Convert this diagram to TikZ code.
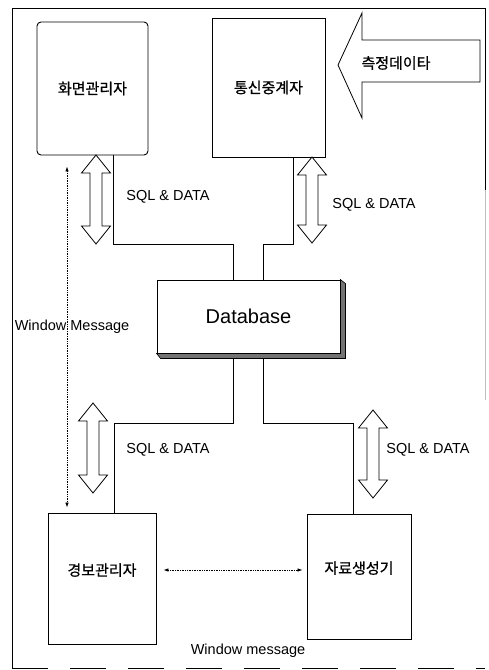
\documentclass[tikz,border=0pt]{standalone}
\usepackage{fontspec}
\setmainfont{Liberation Sans}
\newfontfamily\krfont[FakeBold=0.8]{Noto Sans CJK KR}
\usetikzlibrary{arrows.meta,positioning,calc}
\tikzset{
  modbox/.style={draw, line width=0.9pt, inner sep=0pt, font=\krfont\fontsize{15}{18}\selectfont},
  dbbox/.style={draw, line width=0.9pt, fill=white, minimum width=183, minimum height=73, font=\fontsize{20}{24}\selectfont},
  link/.style={line width=0.8pt},
  msg/.style={densely dotted, line width=0.7pt, {Latex[length=5pt,width=3.5pt]}-{Latex[length=5pt,width=3.5pt]}},
  lbl/.style={font=\fontsize{14.5}{17}\selectfont, inner sep=0pt},
  blk/.style={draw, line width=0.8pt, fill=white, line join=miter},
  frm/.style={line width=0.9pt},
}
% hollow two-headed block arrow: centre x, top tip y, bottom tip y
\newcommand{\blkarrow}[3]{%
  \draw[blk] (#1,#2) -- ++(14.5,18) -- ++(-8.5,0) -- (#1+6,#3-18) -- ++(8.5,0) -- (#1,#3)
    -- ++(-14.5,-18) -- ++(8.5,0) -- (#1-6,#2+18) -- ++(-8.5,0) -- cycle;}

\begin{document}
\begin{tikzpicture}[x=1pt, y=-1pt]
  \useasboundingbox (0,0) rectangle (489,670);
  % outer frame
  \draw[frm] (485,190) -- (485,8) -- (12,8) -- (12,668);
  \draw[frm, black!25] (485,190) -- (485,400);
  \draw[frm, dash pattern=on 36pt off 22pt] (12,668) -- (485,668);
  % modules
  \node[modbox, rounded corners=4pt, minimum width=111, minimum height=133] (scr) at (92.5,88.5) {화면관리자};
  \node[modbox, minimum width=113, minimum height=139] (relay) at (268.5,87.5) {통신중계자};
  \node[modbox, text depth=18pt, minimum width=108, minimum height=131] (alarm) at (102,578.5) {경보관리자};
  \node[modbox, text depth=18pt, minimum width=104, minimum height=125] (gen) at (359,576.5) {자료생성기};
  \node[dbbox] (db) at (248.5,316.5) {Database};
  % links to the database
  \draw[link] ([xshift=20.5pt]scr.south) -- ++(0,89) -| ([xshift=-15.5pt]db.north);
  \draw[link] ([xshift=24.5pt]relay.south) -- ++(0,87) -| ([xshift=14.5pt]db.north);
  \fill[black!55, draw=black, line width=0.6pt] (db.south west) -- ++(4,5) -| ([xshift=5pt,yshift=-4pt]db.north east)
    -- (db.north east) -- (db.south east) -- cycle;
  \draw[link, shorten <=5pt] ([xshift=-15.5pt]db.south) -- ++(0,70) -| ([xshift=12pt]alarm.north);
  \draw[link, shorten <=5pt] ([xshift=14.5pt]db.south) -- ++(0,70) -| ([xshift=-6pt]gen.north);
  % SQL traffic
  \blkarrow{96}{155}{244}
  \blkarrow{312}{157}{243}
  \blkarrow{93}{403}{493}
  \blkarrow{373}{410}{498}
  \node[lbl] (q1) at (168,197) {SQL \& DATA};
  \node[lbl] (q2) at (374,205) {SQL \& DATA};
  \node[lbl] (q3) at (168,450) {SQL \& DATA};
  \node[lbl] (q4) at (428,450) {SQL \& DATA};
  % incoming measurements
  \draw[blk] (338,65) -- (362,13) -- (362,40) -- (480,40) -- (480,82) -- (362,82) -- (362,118) -- cycle;
  \node[font=\krfont\fontsize{15}{18}\selectfont] (feed) at (396,63) {측정데이타};
  % window messages
  \coordinate (wv) at ([xshift=-25.5pt]scr.south);
  \draw[msg, shorten <=11pt, shorten >=5pt] (wv) -- (wv |- alarm.north);
  \node[lbl] (wm1) at (72,327) {Window Message};
  \coordinate (wh) at ([yshift=8.5pt]alarm.east);
  \draw[msg, shorten <=7pt, shorten >=4pt] (wh) -- (wh -| gen.west);
  \node[lbl] (wm2) at (248,651) {Window message};
\end{tikzpicture}
\end{document}
